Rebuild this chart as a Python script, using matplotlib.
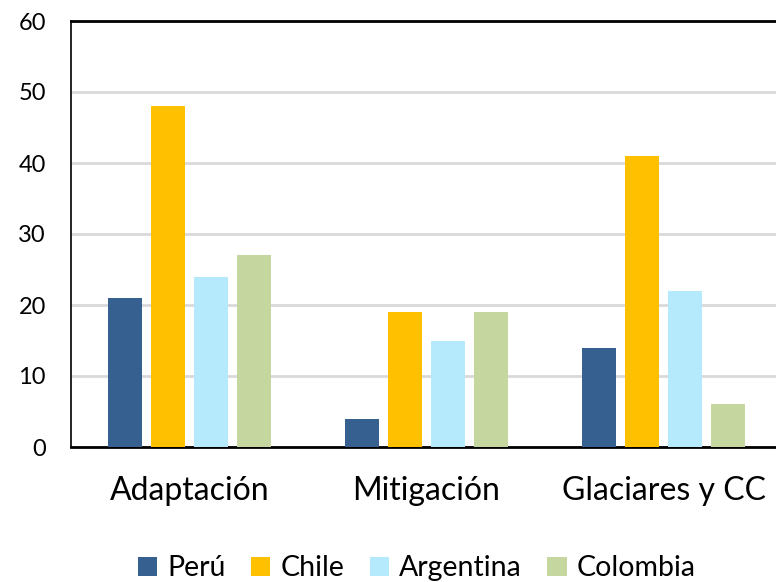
import matplotlib
matplotlib.use("Agg")
import matplotlib.pyplot as plt
import numpy as np

categories = ["Adaptación", "Mitigación", "Glaciares y CC"]
countries = ["Perú", "Chile", "Argentina", "Colombia"]
peru = [21, 4, 14]
chile = [48, 19, 41]
argentina = [24, 15, 22]
colombia = [27, 19, 6]
colors = ["#36608f", "#ffc000", "#b4eafc", "#c5d79e"]
yticks = [0, 10, 20, 30, 40, 50, 60]

plt.rcParams["font.family"] = ["Lato", "DejaVu Sans"]

fig = plt.figure(figsize=(7.76, 5.82), dpi=100)
ax = fig.add_axes([71 / 776, 1 - 447 / 582, 711 / 776, (447 - 21) / 582])

x = np.arange(len(categories))
step = 0.181
width = 0.1435
series = [peru, chile, argentina, colombia]
for i, (name, vals, c) in enumerate(zip(countries, series, colors)):
    ax.bar(x + (i - 1.5) * step, vals, width, color=c, label=name, zorder=3)

ax.set_xlim(-0.5, 2.5)
ax.set_ylim(0, 60)
ax.set_yticks(yticks)
ax.set_xticks(x)
ax.set_xticklabels(categories, fontsize=23)
ax.tick_params(axis="x", length=0, pad=21)
ax.tick_params(axis="y", length=0, pad=18, labelsize=17)
ax.grid(axis="y", color="#d9d9d9", linewidth=2, zorder=0)
ax.set_axisbelow(True)

for s in ["top", "bottom"]:
    ax.spines[s].set_linewidth(2)
    ax.spines[s].set_color("black")
ax.spines["left"].set_linewidth(1.2)
ax.spines["left"].set_color("black")
ax.spines["right"].set_visible(False)

fig.legend(loc="lower center", bbox_to_anchor=(0.537, -0.043), ncol=4, frameon=False,
           fontsize=20.5, handlelength=0.68, handleheight=0.68, handletextpad=0.35,
           columnspacing=0.9)

fig.savefig("out.png", dpi=100)
